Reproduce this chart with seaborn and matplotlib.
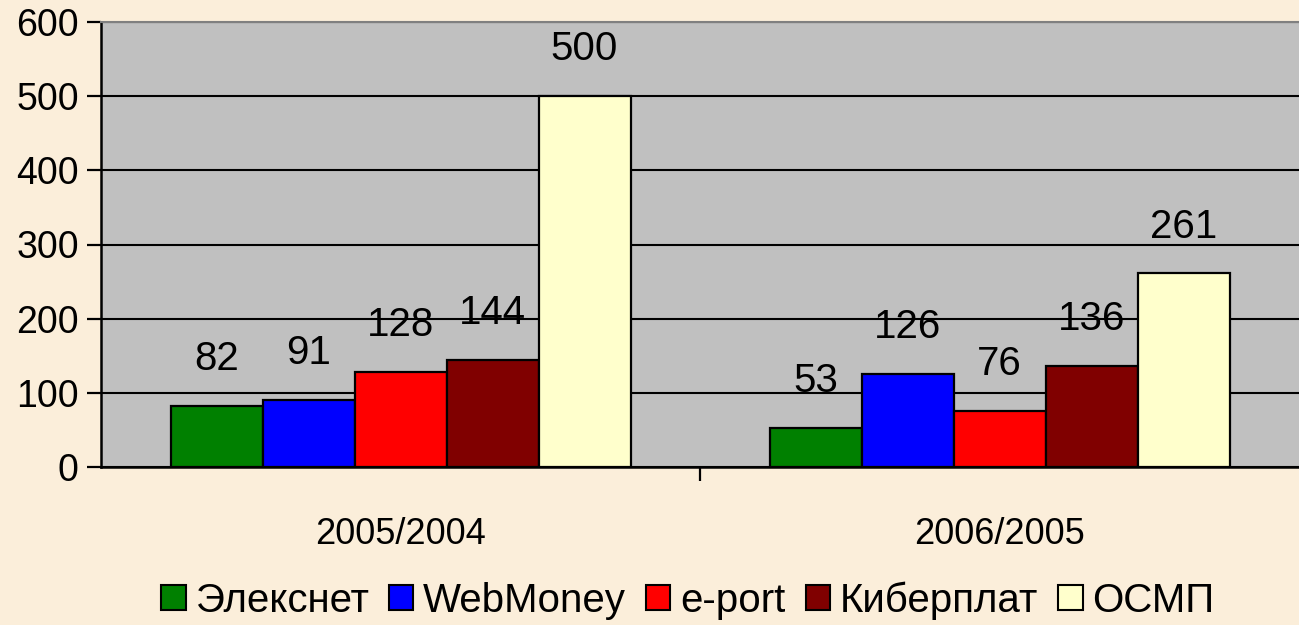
import matplotlib
matplotlib.use("Agg")
import matplotlib.pyplot as plt
import seaborn as sns
import pandas as pd

categories = ["2005/2004", "2006/2005"]
series = ["Элекснет", "WebMoney", "e-port", "Киберплат", "ОСМП"]
values_2005_2004 = [82, 91, 128, 144, 500]
values_2006_2005 = [53, 126, 76, 136, 261]
colors = ["#008000", "#0000FF", "#FF0000", "#800000", "#FFFFCC"]
yticks = [0, 100, 200, 300, 400, 500, 600]

rows = []
for cat, vals in zip(categories, [values_2005_2004, values_2006_2005]):
    for s, v in zip(series, vals):
        rows.append({"cat": cat, "series": s, "value": v})
df = pd.DataFrame(rows)

sns.set_theme(style="white")
plt.rcParams["font.family"] = ["Liberation Sans", "DejaVu Sans"]
plt.rcParams["text.color"] = "black"
plt.rcParams["xtick.color"] = "black"
plt.rcParams["ytick.color"] = "black"
plt.rcParams["xtick.labelcolor"] = "black"
plt.rcParams["ytick.labelcolor"] = "black"

bg = "#FBEEDA"
fig = plt.figure(figsize=(12.99, 6.25), dpi=100, facecolor=bg)
ax = fig.add_axes([0.0778, 0.2528, 0.9222, 0.712])
ax.set_facecolor("#C0C0C0")

sns.barplot(data=df, x="cat", y="value", hue="series", order=categories,
            hue_order=series, palette=colors, width=0.768,
            edgecolor="black", linewidth=1.6, saturation=1, ax=ax, zorder=3)

for cont in ax.containers:
    ax.bar_label(cont, padding=20, fontsize=29, color="black")

ax.set_ylim(0, 600)
ax.set_xlim(-0.5, 1.5)
ax.set_yticks(yticks)
ax.set_yticklabels([str(t) for t in yticks], fontsize=27)
ax.yaxis.grid(True, color="black", linewidth=1.5, zorder=1)
ax.set_axisbelow(True)
ax.tick_params(axis="y", length=10, width=1.6, color="black", labelcolor="black",
               direction="out", pad=6, left=True)
ax.set_xticks([0, 1])
ax.set_xticklabels(categories, fontsize=26)
ax.set_xticks([0.5], minor=True)
ax.tick_params(axis="x", which="major", length=0, pad=36, labelcolor="black")
ax.tick_params(axis="x", which="minor", length=10, width=1.6, color="black",
               direction="out", bottom=True)
ax.set_xlabel("")
ax.set_ylabel("")

for side in ["left", "bottom"]:
    ax.spines[side].set_color("black")
    ax.spines[side].set_linewidth(1.8)
ax.spines["top"].set_color("#808080")
ax.spines["top"].set_linewidth(1.5)
ax.spines["right"].set_visible(False)

leg = ax.legend(loc="center", bbox_to_anchor=(0.49, -0.30), ncol=5,
                frameon=False, fontsize=29, handlelength=0.6, handleheight=0.6,
                handletextpad=0.25, columnspacing=0.5, borderpad=0.0)
for h in leg.legend_handles:
    h.set_edgecolor("black")
    h.set_linewidth(1.5)
for t in leg.get_texts():
    t.set_color("black")

fig.savefig("out.png", dpi=100, facecolor=bg)
